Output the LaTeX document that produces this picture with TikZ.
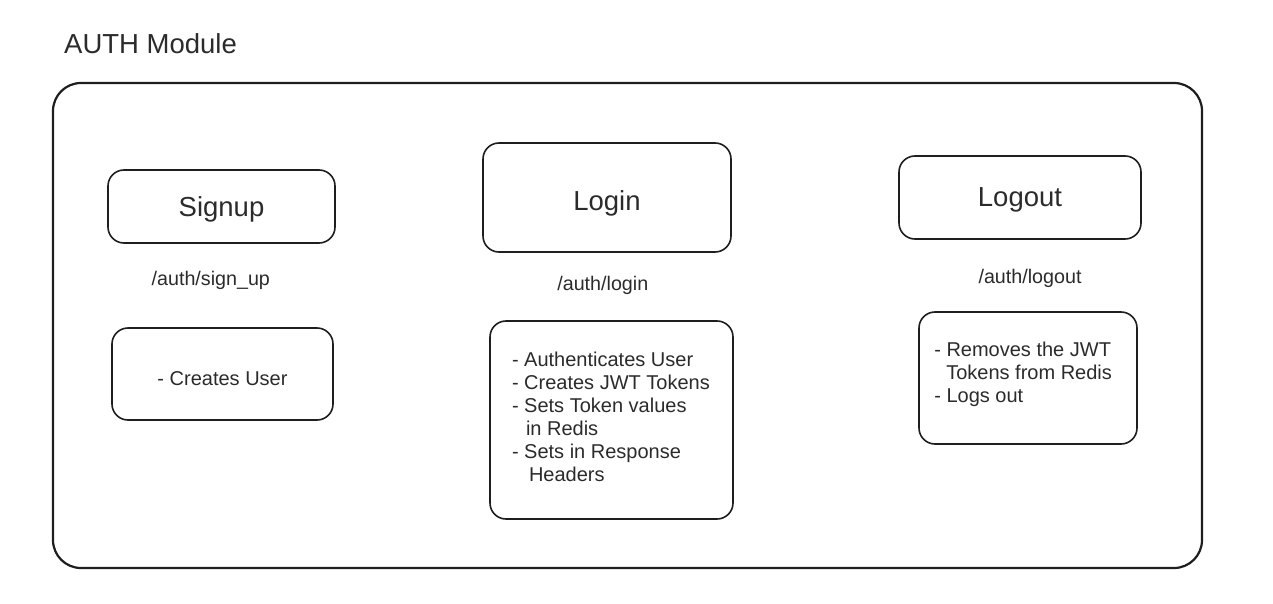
\documentclass[tikz,border=0pt]{standalone}
\usepackage{fontspec}
\setmainfont{Liberation Sans}
\usepackage{xcolor}
\usetikzlibrary{positioning}
\definecolor{inkline}{HTML}{1E1E1E}
\definecolor{inktext}{HTML}{2B2B2B}
\tikzset{
  sketchbox/.style={draw=inkline, line width=1.6pt, rounded corners=16pt, text=inktext},
  titlebox/.style={sketchbox, text depth=0pt, font=\fontsize{27.5}{30}\selectfont},
  descbox/.style={sketchbox},
  desctext/.style={text=inktext, inner sep=0pt, anchor=north west, align=left, font=\fontsize{20}{23}\selectfont},
  route/.style={text=inktext, anchor=base, font=\fontsize{19.7}{23}\selectfont}
}
\begin{document}
\begin{tikzpicture}[x=1pt,y=-1pt]
  \useasboundingbox (0,0) rectangle (1273,604);

  % module frame and heading
  \draw[draw=inkline, line width=2.2pt, rounded corners=28pt] (53,83) rectangle (1202,568);
  \node[text=inktext, font=\fontsize{27.5}{30}\selectfont, anchor=base west, inner sep=0pt] (modtitle) at (64,53.3) {AUTH Module};

  % endpoints
  \node[titlebox, text height=20.4pt, minimum width=227pt, minimum height=73pt] (signup) at (221.5,206.5) {Signup};
  \node[titlebox, text height=27pt, minimum width=248pt, minimum height=109pt] (login) at (607,197.5) {Login};
  \node[titlebox, text height=18.4pt, minimum width=242pt, minimum height=83pt] (logout) at (1020,197.5) {Logout};

  % routes
  \node[route] (signuproute) at (210.8,285) {/auth/sign\_up};
  \node[route] (loginroute) at (602.8,290) {/auth/login};
  \node[route] (logoutroute) at (1030,283.3) {/auth/logout};

  % what each endpoint does
  \node[descbox, text height=22pt, text depth=0pt, font=\fontsize{20}{23}\selectfont,
        minimum width=221pt, minimum height=92pt] (signupdesc) at (222.5,374) {- Creates User};
  \node[descbox, minimum width=243pt, minimum height=198pt] (logindesc) at (611.5,420) {};
  \node[descbox, minimum width=218pt, minimum height=132pt] (logoutdesc) at (1028,378) {};
  \node[desctext] (logintext) at (511.8,352.3) {%
    - Authenticates User\\
    - Creates JWT Tokens\\
    - Sets Token values\\
    \hspace*{14pt}in Redis\\
    - Sets in Response\\
    \hspace*{17pt}Headers};
  \node[desctext] (logouttext) at (934.1,342.3) {%
    - Removes the JWT\\
    \hspace*{12pt}Tokens from Redis\\
    - Logs out};
\end{tikzpicture}
\end{document}
